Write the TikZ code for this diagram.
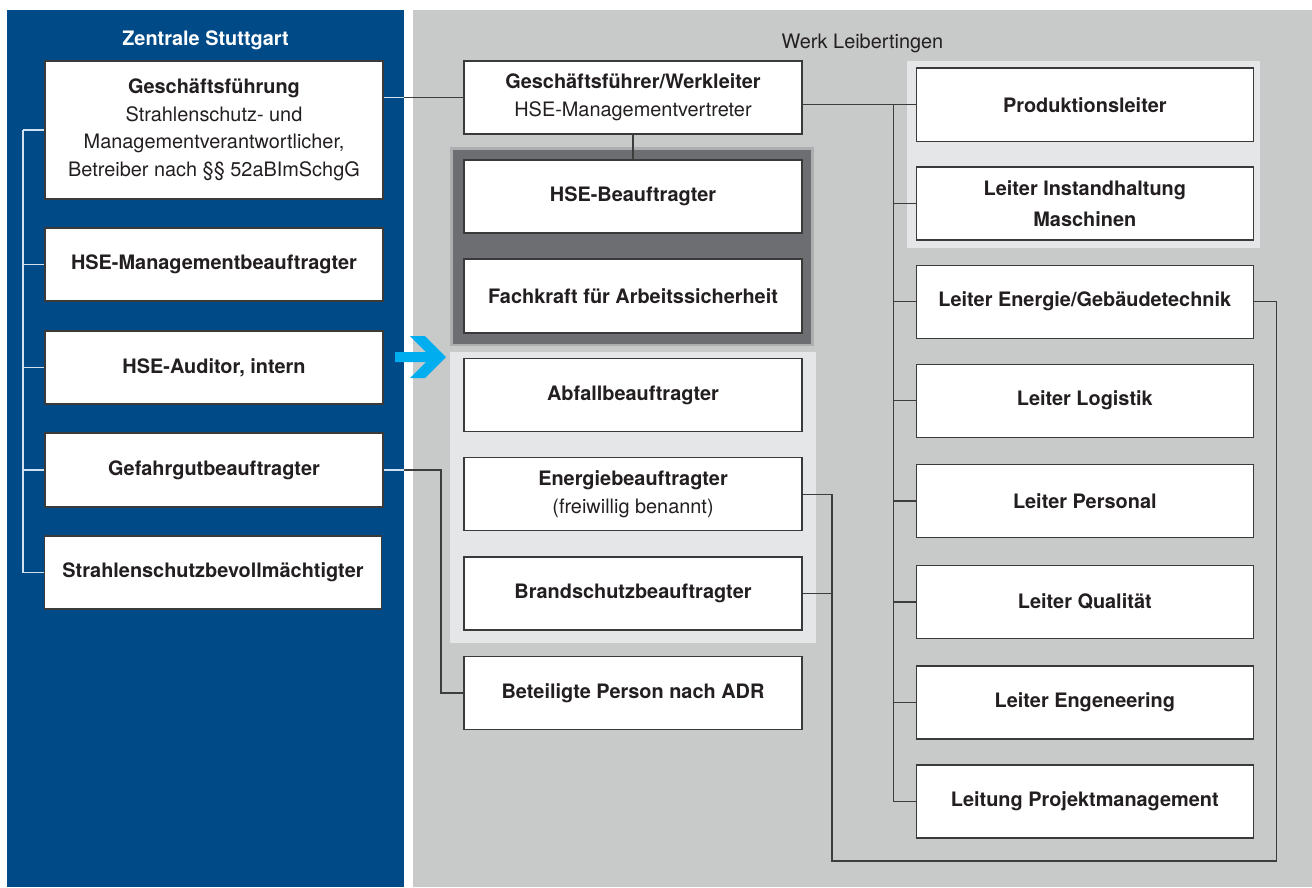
\documentclass[tikz,border=0pt]{standalone}
\usepackage{fontspec}
\setmainfont{TeX Gyre Heros}
\usetikzlibrary{calc}

\definecolor{zentrale}{HTML}{004A87}
\definecolor{werk}{HTML}{C8C9C9}
\definecolor{lightgrp}{HTML}{E5E6E7}
\definecolor{darkgrp}{HTML}{6D6E71}
\definecolor{darkrim}{HTML}{ACAEB0}
\definecolor{pointer}{HTML}{00AEEF}
\definecolor{boxline}{HTML}{3A3A3A}
\definecolor{linkdark}{HTML}{3D3D3D}
\definecolor{linklight}{HTML}{D3E0EE}
\definecolor{txt}{HTML}{231F20}

\tikzset{
  orgbox/.style={draw=boxline, fill=white, line width=1.1pt,
    minimum width=338pt, minimum height=73pt, inner sep=0pt,
    align=center, text=txt, font=\bfseries\fontsize{19.9}{27.5}\selectfont},
  link/.style={draw=linkdark, line width=1.5pt},
  linkpale/.style={draw=linklight, line width=1.3pt},
  heading/.style={anchor=base, font=\fontsize{19.9}{24}\selectfont},
}

\begin{document}
\begin{tikzpicture}[x=1pt, y=-1pt]
\useasboundingbox (0,0) rectangle (1312,887);
\fill[white] (0,0) rectangle (1312,887);

% the two panels
\fill[zentrale] (7,10) rectangle (404,887);
\fill[werk] (413,10) rectangle (1312,887);

\node[heading, text=white, font=\bfseries\fontsize{19.9}{24}\selectfont] (tz) at (205.5,45) {Zentrale Stuttgart};
\node[heading, text=txt] (tw) at (862.5,48) {Werk Leibertingen};

% group backgrounds
\filldraw[fill=darkgrp, draw=darkrim, line width=2.5pt] (451.5,148.5) rectangle (812.5,345);
\fill[lightgrp] (450,352) rectangle (816,643);
\fill[lightgrp] (907,61) rectangle (1260,248);

% Zentrale Stuttgart
\node[orgbox, minimum height=138pt] (gf) at (214,130)
  {Geschäftsführung\\\textmd{Strahlenschutz- und}\\\textmd{Managementverantwortlicher,}\\\textmd{Betreiber nach §§ 52aBImSchgG}};
\node[orgbox] (hsemb) at (214,264.5) {HSE-Managementbeauftragter};
\node[orgbox] (aud)   at (214,367.5) {HSE-Auditor, intern};
\node[orgbox, minimum height=74pt] (gg) at (214,470) {Gefahrgutbeauftragter};
\node[orgbox, minimum width=337pt] (ssb) at (213,572.5) {Strahlenschutzbevollmächtigter};

% Werk: middle column
\node[orgbox] (wl)   at (633,97.5) {Geschäftsführer/Werkleiter\\\textmd{HSE-Managementvertreter}};
\node[orgbox] (hseb) at (633,196.5) {HSE-Beauftragter};
\node[orgbox, minimum height=74pt] (fak) at (633,296) {Fachkraft für Arbeitssicherheit};
\node[orgbox] (abf)  at (633,395) {Abfallbeauftragter};
\node[orgbox] (enb)  at (633,494.3) {Energiebeauftragter\\\textmd{(freiwillig benannt)}};
\node[orgbox] (brs)  at (633,593.5) {Brandschutzbeauftragter};
\node[orgbox] (adr)  at (633,693) {Beteiligte Person nach ADR};

% Werk: right column
\node[orgbox, minimum width=337.5pt, minimum height=73.5pt] (prod) at (1084.8,104.7) {Produktionsleiter};
\node[orgbox, minimum width=337.5pt] (inst) at (1084.8,203.5) {Leiter Instandhaltung\\[3pt]Maschinen};
\node[orgbox, minimum width=337.5pt] (ene)  at (1084.8,301.7) {Leiter Energie/Gebäudetechnik};
\node[orgbox, minimum width=337.5pt] (log)  at (1084.8,400.7) {Leiter Logistik};
\node[orgbox, minimum width=337.5pt] (pers) at (1084.8,501) {Leiter Personal};
\node[orgbox, minimum width=337.5pt] (qual) at (1084.8,602) {Leiter Qualität};
\node[orgbox, minimum width=337.5pt] (eng)  at (1084.8,702.5) {Leiter Engeneering};
\node[orgbox, minimum width=337.5pt] (proj) at (1084.8,801.5) {Leitung Projektmanagement};

% routing points
\coordinate (lt) at (23,0);
\coordinate (rt) at (893.3,0);
\coordinate (gx) at (441,0);
\coordinate (loopR) at (1276.7,861);
\coordinate (loopL) at (832,861);

% left trunk inside Zentrale
\draw[linkpale] (lt |- gf.west) -- (lt |- ssb.west);
\foreach \n in {gf,hsemb,aud,gg,ssb}
  \draw[linkpale] (lt |- \n.west) -- (\n.west);

% links crossing from Zentrale into the plant
\draw[link] (gf.east |- wl.west) -- (wl.west);
\draw[link] (gg.east) -- (gg.east -| gx) |- (adr.west);
\begin{scope}
  \clip (7,10) rectangle (404,887);
  \draw[linkpale] (gf.east |- wl.west) -- (wl.west);
  \draw[linkpale] (gg.east) -- (gg.east -| gx);
\end{scope}

% plant manager
\draw[link] (wl.south) -- (hseb.north);
\draw[link] (wl.east |- prod.west) -- (prod.west);
\draw[link] (rt |- prod.west) -- (rt |- proj.west);
\foreach \n in {inst,ene,log,pers,qual,eng,proj}
  \draw[link] (rt |- \n.west) -- (\n.west);

% energy loop
\draw[link] (ene.east) -| (loopR) -- (loopL) |- (enb.east);
\draw[link] (brs.east) -- (brs.east -| loopL);

% pointer arrow: shaft and chevron as one shape
\fill[pointer] (395,352) -- (426,352) -- (410,336) -- (425,336) -- (446,357)
  -- (425,378) -- (410,378) -- (426,362) -- (395,362) -- cycle;
\end{tikzpicture}
\end{document}
